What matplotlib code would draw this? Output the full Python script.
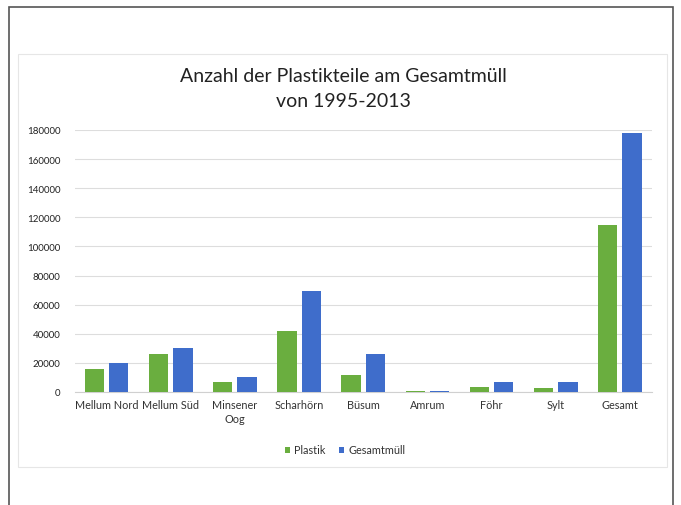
import matplotlib.pyplot as plt
import numpy as np
from matplotlib.patches import Rectangle

categories = ["Mellum Nord", "Mellum Süd", "Minsener\nOog", "Scharhörn", "Büsum",
              "Amrum", "Föhr", "Sylt", "Gesamt"]
plastik = [15500, 26000, 7000, 42000, 11500, 400, 3700, 3000, 115000]
gesamtmuell = [20000, 30000, 10500, 69500, 26000, 1000, 7000, 7000, 178000]
yticks = [0, 20000, 40000, 60000, 80000, 100000, 120000, 140000, 160000, 180000]

plt.rcParams['font.family'] = ['Lato', 'DejaVu Sans']

fig = plt.figure(figsize=(6.81, 5.06), dpi=100)
W, H = 681, 506

# outer frame and chart box
fig.patches.append(Rectangle((9 / W, -0.05), 664 / W, 1 - 8 / H + 0.05,
                             transform=fig.transFigure, fill=False,
                             edgecolor='#555555', linewidth=1.2))
fig.patches.append(Rectangle((18 / W, 1 - 468 / H), 649 / W, 413 / H,
                             transform=fig.transFigure, fill=False,
                             edgecolor='#e6e6e6', linewidth=0.8))

ax = fig.add_axes([74.5 / W, 113 / H, 577.5 / W, 262 / H])
x = np.arange(len(categories))
w = 0.30
ax.bar(x - 0.19, plastik, width=w, color='#6aae3f', label='Plastik', zorder=3)
ax.bar(x + 0.19, gesamtmuell, width=w, color='#3f6dcb', label='Gesamtmüll', zorder=3)

ax.set_xlim(-0.5, len(categories) - 0.5)
ax.set_ylim(0, 180000)
ax.set_yticks(yticks)
ax.set_yticklabels([str(v) for v in yticks], fontsize=7, color='#222222')
ax.set_xticks(x)
ax.set_xticklabels(categories, fontsize=7.8, color='#333333', linespacing=1.3)
ax.tick_params(length=0)
ax.tick_params(axis='y', pad=10)
ax.tick_params(axis='x', pad=5)
ax.grid(axis='y', color='#dddddd', linewidth=0.8, zorder=0)
for s in ['top', 'right', 'left']:
    ax.spines[s].set_visible(False)
ax.spines['bottom'].set_color('#d0d0d0')

fig.text(343 / W, 1 - 89 / H, "Anzahl der Plastikteile am Gesamtmüll\nvon 1995-2013",
         ha='center', va='center', fontsize=14, color='#222222', linespacing=1.6)

fig.legend(loc='center', bbox_to_anchor=(345 / W, 1 - 451 / H), ncol=2,
           frameon=False, fontsize=7.8, handlelength=0.5, handleheight=0.5,
           handletextpad=0.4, columnspacing=1.2, labelcolor='#333333')

fig.savefig('out.png', dpi=100)
